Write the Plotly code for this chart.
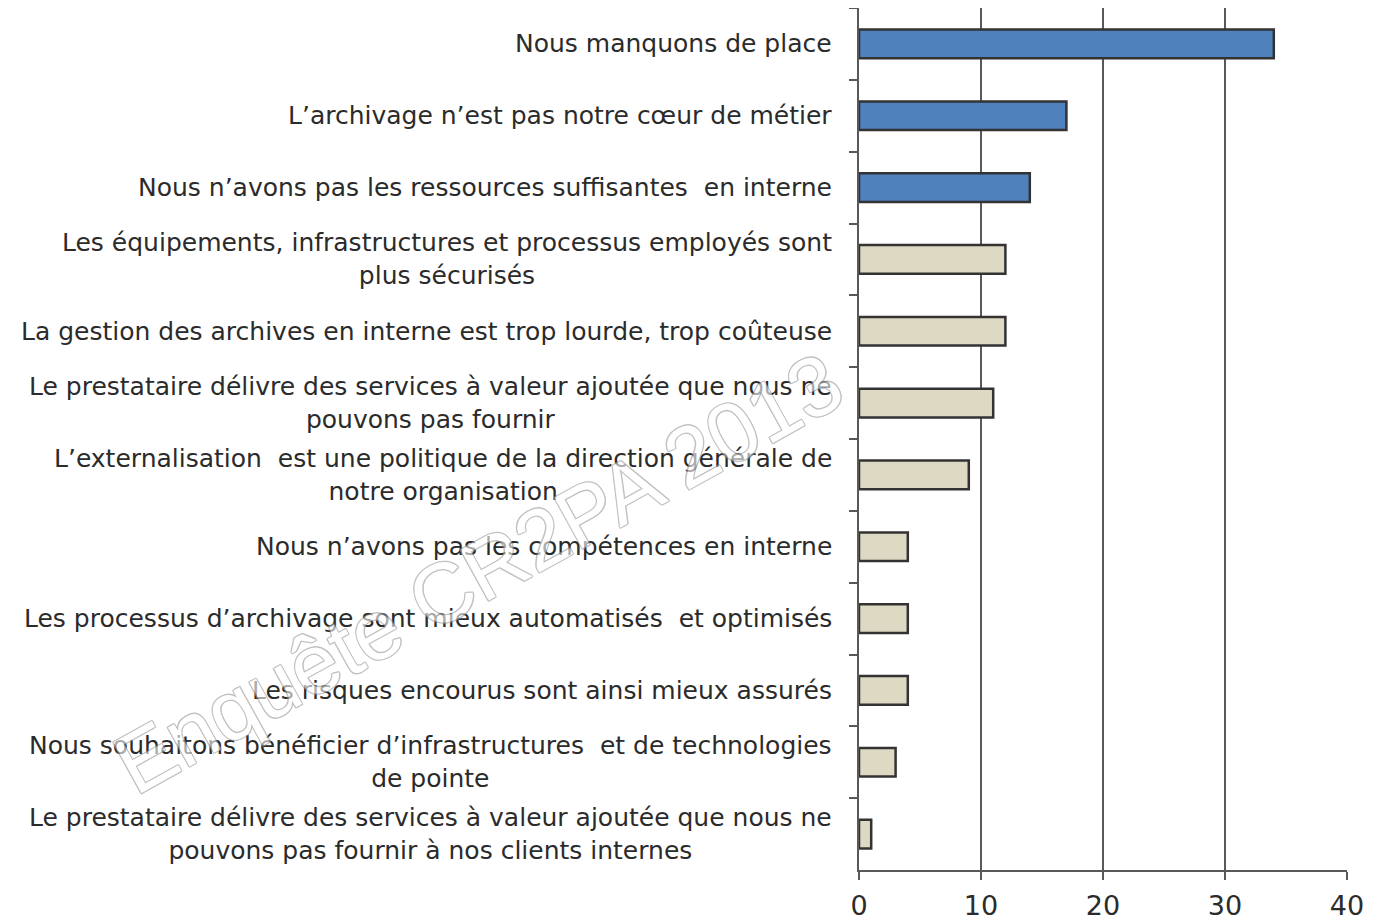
import plotly.graph_objects as go

categories = [
    "Nous manquons de place",
    "L’archivage n’est pas notre cœur de métier",
    "Nous n’avons pas les ressources suffisantes  en interne",
    "Les équipements, infrastructures et processus employés sont<br>plus sécurisés",
    "La gestion des archives en interne est trop lourde, trop coûteuse",
    "Le prestataire délivre des services à valeur ajoutée que nous ne<br>pouvons pas fournir",
    "L’externalisation  est une politique de la direction générale de<br>notre organisation",
    "Nous n’avons pas les compétences en interne",
    "Les processus d’archivage sont mieux automatisés  et optimisés",
    "Les risques encourus sont ainsi mieux assurés",
    "Nous souhaitons bénéficier d’infrastructures  et de technologies<br>de pointe",
    "Le prestataire délivre des services à valeur ajoutée que nous ne<br>pouvons pas fournir à nos clients internes",
]
values = [34, 17, 14, 12, 12, 11, 9, 4, 4, 4, 3, 1]
x_ticks = [0, 10, 20, 30, 40]
watermark = "Enquête CR2PA 2013"

BLUE = "#4F81BD"
BEIGE = "#DDD9C3"
colors = [BLUE if i < 3 else BEIGE for i in range(len(values))]
ids = [f"c{i}" for i in range(len(categories))]

FONT = "DejaVu Sans"
TXT = "#2b2b2b"
AX = "#595959"

fig = go.Figure()
fig.add_trace(go.Bar(
    y=ids, x=values, orientation="h",
    marker=dict(color=colors, line=dict(color="#333333", width=2.5)),
    width=0.4, hoverinfo="x",
))

annotations = []
for cid, lab in zip(ids, categories):
    annotations.append(dict(
        x=0, xref="paper", y=cid, yref="y", text=lab, showarrow=False,
        xanchor="right", yanchor="middle", align="center", xshift=-25,
        font=dict(family=FONT, size=25, color=TXT),
    ))

sh = "#9a9a9a"
annotations.append(dict(
    x=-0.78, y=0.345, xref="paper", yref="paper",
    xanchor="center", yanchor="middle",
    text=watermark, showarrow=False, textangle=-29, opacity=0.6,
    font=dict(family="Liberation Sans", size=84, color="#ffffff",
              shadow=(f"1px 1px 0 {sh}, -1px -1px 0 {sh}, 1px -1px 0 {sh}, -1px 1px 0 {sh}, "
                      f"1px 0 0 {sh}, -1px 0 0 {sh}, 0 1px 0 {sh}, 0 -1px 0 {sh}")),
))

fig.update_layout(
    width=1371, height=913,
    margin=dict(l=851, r=32, t=0, b=51),
    plot_bgcolor="white", paper_bgcolor="white",
    showlegend=False, bargap=0.6,
    annotations=annotations,
    xaxis=dict(
        range=[0, 40], tickvals=x_ticks, ticktext=[str(v) for v in x_ticks],
        showgrid=True, gridcolor=AX, gridwidth=1.5,
        showline=True, linecolor=AX, linewidth=1.5,
        ticks="outside", ticklen=8, tickcolor=AX, tickwidth=1.5,
        tickfont=dict(family=FONT, size=27, color=TXT),
        ticklabelstandoff=3,
        zeroline=False, fixedrange=True,
    ),
    yaxis=dict(
        type="category", categoryorder="array", categoryarray=ids,
        autorange="reversed", showticklabels=False,
        tickson="boundaries", ticks="outside", ticklen=8,
        tickcolor=AX, tickwidth=1.5,
        showline=True, linecolor=AX, linewidth=1.5,
        showgrid=False, zeroline=False, fixedrange=True,
    ),
)

fig.write_html("out.html")
